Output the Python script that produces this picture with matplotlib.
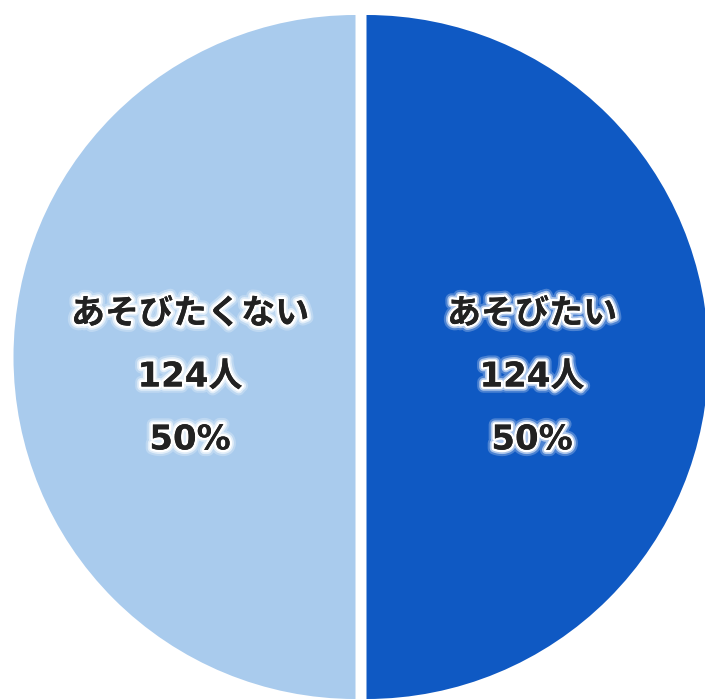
import numpy as np
import matplotlib.pyplot as plt
import matplotlib.patheffects as pe

plt.rcParams['font.family'] = ['DejaVu Sans', 'Noto Sans CJK JP']

# data
labels = ['あそびたい', 'あそびたくない']
counts = [124, 124]
percents = [50, 50]
colors = ['#0F59C3', '#A9CBED']

W, H = 705, 700
fig = plt.figure(figsize=(W / 100, H / 100), dpi=100)
ax = fig.add_axes([0, 0, 1, 1])

cx, cy, r = 361, H - 357, 342
wedges, _ = ax.pie(counts, colors=colors, startangle=90, counterclock=False,
                   center=(cx, cy), radius=r, explode=[5.5, 5.5],
                   wedgeprops=dict(linewidth=0))

ax.set_xlim(0, W)
ax.set_ylim(0, H)
ax.set_aspect('equal')
ax.axis('off')

glow = [pe.withStroke(linewidth=9, foreground=(1, 1, 1, 0.25)),
        pe.withStroke(linewidth=6, foreground=(1, 1, 1, 0.55)),
        pe.withStroke(linewidth=3.5, foreground='white'),
        pe.Normal()]

for w, lab, n, p in zip(wedges, labels, counts, percents):
    ang = np.deg2rad((w.theta1 + w.theta2) / 2)
    x = cx + 0.5 * r * np.cos(ang)
    y = cy + 0.5 * r * np.sin(ang) - 20
    ax.text(x, y, f'{lab}\n{n}人\n{p}%', ha='center', va='center',
            fontsize=24.5, fontweight='bold', color='#222222',
            linespacing=2.15, path_effects=glow)

fig.savefig('out.png', dpi=100)
